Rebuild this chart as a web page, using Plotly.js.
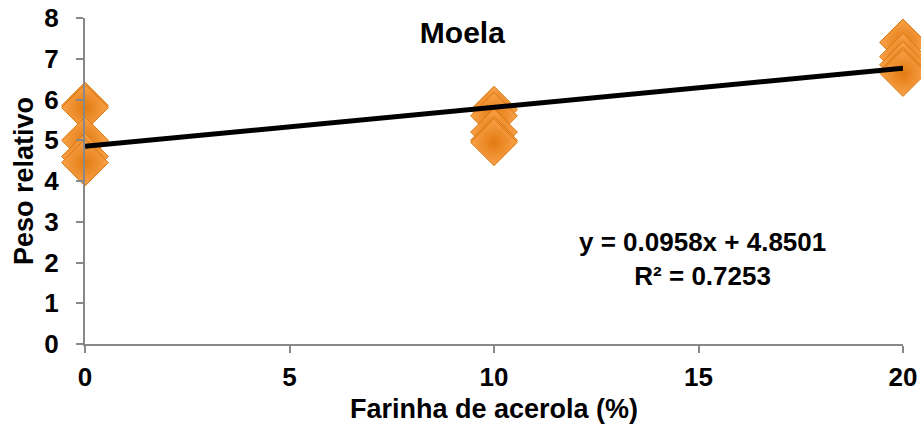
<!DOCTYPE html>
<html><head><meta charset="utf-8">
<script src="https://cdn.plot.ly/plotly-3.0.1.min.js"></script>
<style>body{margin:0;background:#fff}#c{width:921px;height:430px}</style>
</head><body><div id="c"></div>
<script>
const xLevels = [0,0,0,0,0, 10,10,10,10,10, 20,20,20,20,20];
const pesoRelativo = [5.85,5.8,5.0,4.6,4.45, 5.75,5.6,5.2,5.0,4.95, 7.4,7.05,6.85,6.7,6.65];
const slope = 0.0958, intercept = 4.8501;
const trendX = [0, 20];
const trendY = trendX.map(x => slope*x + intercept);
const xTicks = [0,5,10,15,20];
const yTicks = [0,1,2,3,4,5,6,7,8];
const F = 'Liberation Sans, Arial, sans-serif';
Plotly.newPlot('c', [
  {x: xLevels, y: pesoRelativo, type:'scatter', mode:'markers',
   marker:{symbol:'diamond', size:36, color:'#F9A24A',
     gradient:{type:'radial', color:'#E27A10'},
     line:{color:'#D9770F', width:1}}, showlegend:false, cliponaxis:false},
  {x: trendX, y: trendY, type:'scatter', mode:'lines',
   line:{color:'#000', width:5}, showlegend:false, cliponaxis:false}
], {
  width:921, height:430, margin:{l:85, r:18, t:18, b:86},
  paper_bgcolor:'#fff', plot_bgcolor:'#fff',
  font:{family:F, color:'#000'},
  title:{text:'<b>Moela</b>', x:0.502, xanchor:'center', y:0.925, yanchor:'middle', font:{size:30, family:F}},
  xaxis:{range:[0,20], tickvals:xTicks, ticktext:xTicks.map(String), showgrid:false, zeroline:false, automargin:false,
    showline:true, linecolor:'#888', linewidth:2, ticks:'outside', ticklen:7, tickcolor:'#888', tickwidth:2,
    tickfont:{size:26, family:F, weight:'bold'}, ticklabelstandoff:2,
    title:{text:'<b>Farinha de acerola (%)</b>', font:{size:27, family:F}, standoff:8}},
  yaxis:{range:[0,8], tickvals:yTicks, showgrid:false, zeroline:false, automargin:false,
    showline:true, linecolor:'#888', linewidth:2, ticks:'outside', ticklen:7, tickcolor:'#888', tickwidth:2,
    tickfont:{size:26, family:F, weight:'bold'}, ticklabelstandoff:12,
    title:{text:'<b>Peso relativo</b>', font:{size:27, family:F}, standoff:3}},
  annotations:[{xref:'paper', yref:'paper', x:0.755, y:0.26, xanchor:'center', yanchor:'middle',
    text:'<b>y = 0.0958x + 4.8501<br>R² = 0.7253</b>', showarrow:false, font:{size:26, family:F}}]
}, {displayModeBar:false, staticPlot:true});
</script></body></html>
